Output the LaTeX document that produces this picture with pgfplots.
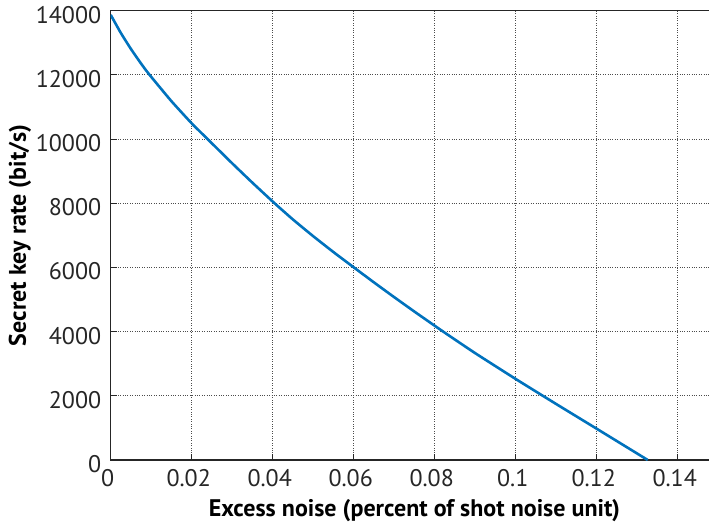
\documentclass[border=0pt]{standalone}
\usepackage{pgfplots}
\pgfplotsset{compat=1.18}
\usepackage{fontspec}
\setmainfont{PT Sans}
\definecolor{mblue}{rgb}{0,0.447,0.741}
\definecolor{axgray}{rgb}{0.15,0.15,0.15}
\begin{document}
\begin{tikzpicture}
\begin{axis}[
  at={(0,0)}, anchor=south west,
  scale only axis,
  width=607.5pt, height=449.3pt,
  xmin=0, xmax=0.15, ymin=0, ymax=14000,
  xtick={0,0.02,0.04,0.06,0.08,0.1,0.12,0.14},
  xticklabels={0,0.02,0.04,0.06,0.08,0.1,0.12,0.14},
  ytick={0,2000,4000,6000,8000,10000,12000,14000},
  yticklabels={0,2000,4000,6000,8000,10000,12000,14000},
  scaled ticks=false,
  /pgf/number format/assume math mode=true,
  xtick pos=bottom, ytick pos=left,
  tick align=inside,
  major tick length=6pt,
  tick style={axgray, line width=0.8pt},
  grid=major,
  major grid style={dotted, black!70, line width=0.8pt},
  axis line style={axgray, line width=1.5pt},
  tick label style={font=\fontsize{24}{28}\selectfont, text=axgray},
  xticklabel style={yshift=-6pt, xshift=-3pt},
  yticklabel style={yshift=-4pt, xshift=-6pt},
  xlabel={Excess noise (percent of shot noise unit)},
  ylabel={Secret key rate (bit/s)},
  label style={font=\fontsize{24}{28}\selectfont\bfseries},
  xlabel style={at={(axis description cs:0.5,-0.113)}, anchor=center},
  ylabel style={at={(axis description cs:-0.1495,0.5)}, anchor=center},
]
\addplot[mblue, line width=2.6pt, smooth, tension=0.3] coordinates {
(0,13870)
(0.0025,13307)
(0.005,12807)
(0.0075,12352)
(0.0095,12016)
(0.015,11180)
(0.02,10490)
(0.024,9990)
(0.03,9244)
(0.035,8639)
(0.0404,8007)
(0.045,7494)
(0.05,6974)
(0.055,6479)
(0.06,6004)
(0.065,5534)
(0.07,5074)
(0.075,4624)
(0.0818,4026)
(0.09,3329)
(0.1,2524)
(0.11,1744)
(0.12,974)
(0.1326,0)
};
\end{axis}
\pgfresetboundingbox
\path[use as bounding box] ([xshift=-110.7pt,yshift=-62pt]current axis.south west) rectangle ([xshift=598.3pt,yshift=460pt]current axis.south west);
\end{tikzpicture}
\end{document}
